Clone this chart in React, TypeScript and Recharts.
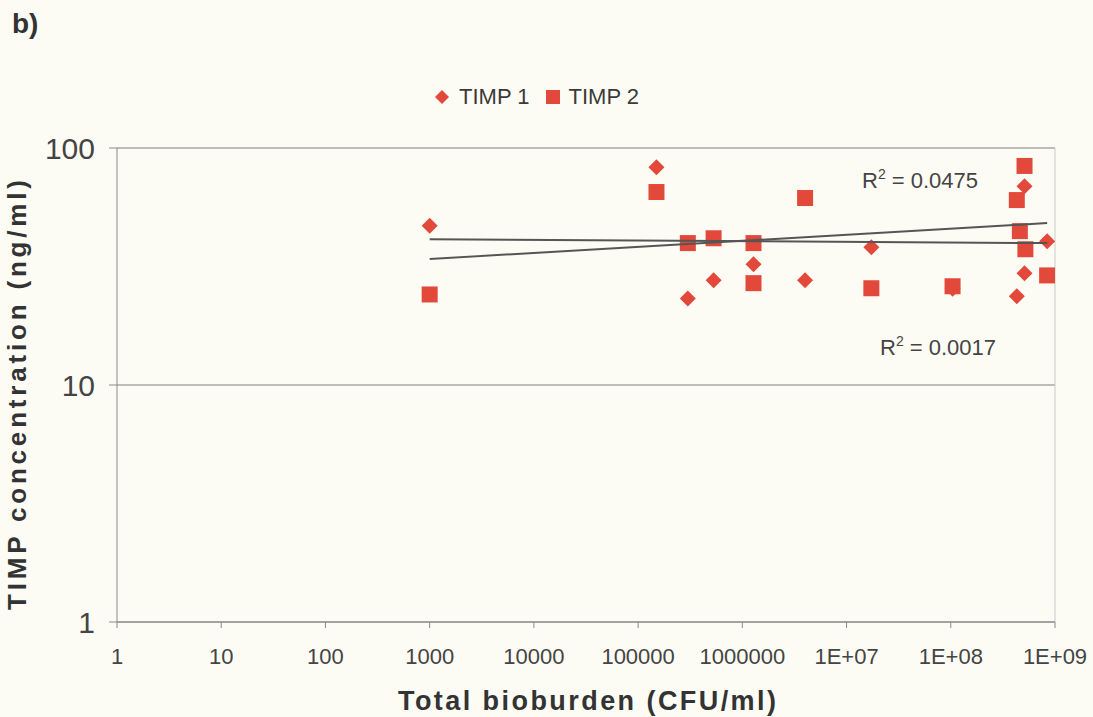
import {
  ScatterChart,
  Scatter,
  XAxis,
  YAxis,
  CartesianGrid,
  ReferenceLine,
} from 'recharts'

const MARKER = '#e3493b'
const TREND = '#555555'

const xTicks = [1, 10, 100, 1000, 1e4, 1e5, 1e6, 1e7, 1e8, 1e9]
const yTicks = [1, 10, 100]

// TIMP 1 (diamonds)
const timp1Bioburden = [1000, 1.5e5, 3.0e5, 5.3e5, 1.28e6, 4.0e6, 1.73e7, 1.04e8, 4.3e8, 5.1e8, 5.1e8, 8.4e8]
const timp1Conc = [47, 83, 23.2, 27.7, 32.3, 27.7, 38.1, 25.5, 23.7, 29.6, 69, 40.4]

// TIMP 2 (squares)
const timp2Bioburden = [1000, 1.5e5, 3.0e5, 5.3e5, 1.28e6, 1.28e6, 4.0e6, 1.73e7, 1.04e8, 4.3e8, 4.6e8, 5.2e8, 5.1e8, 8.4e8]
const timp2Conc = [24.1, 65.2, 39.7, 41.6, 39.7, 26.9, 61.5, 25.6, 26.1, 60.3, 44.6, 37.4, 84, 29]

// power trendlines, end points
const trendBioburden = [1000, 8.4e8]
const trend1Conc = [41.2, 39.7]
const trend2Conc = [34, 48.2]

const toPoints = (xs: number[], ys: number[]) => xs.map((x, i) => ({ x, y: ys[i] }))

const timp1 = toPoints(timp1Bioburden, timp1Conc)
const timp2 = toPoints(timp2Bioburden, timp2Conc)
const trend1 = toPoints(trendBioburden, trend1Conc)
const trend2 = toPoints(trendBioburden, trend2Conc)

const formatX = (v: number) => (v >= 1e7 ? `1E+${String(Math.round(Math.log10(v))).padStart(2, '0')}` : String(v))

const Diamond = (props: any) => {
  const { cx, cy } = props
  const r = 8
  return <polygon points={`${cx},${cy - r} ${cx + r},${cy} ${cx},${cy + r} ${cx - r},${cy}`} fill={MARKER} />
}

const Square = (props: any) => {
  const { cx, cy } = props
  return <rect x={cx - 8} y={cy - 8} width={16} height={16} fill={MARKER} />
}

const NoDot = () => <g />

export default function App() {
  return (
    <div
      style={{
        position: 'absolute',
        left: 0,
        top: 0,
        width: 1093,
        height: 717,
        background: '#fcfcf4',
        fontFamily: '"Liberation Sans", Arial, sans-serif',
      }}
    >
      <ScatterChart width={1093} height={717} margin={{ top: 148, right: 38, bottom: 0, left: 0 }}>
        <CartesianGrid vertical={false} stroke="#7d7d7d" strokeWidth={1.2} />
        <XAxis
          type="number"
          dataKey="x"
          scale="log"
          domain={[1, 1e9]}
          ticks={xTicks}
          tickFormatter={formatX}
          height={95}
          stroke="#8a8a8a"
          tickSize={6}
          tickMargin={20}
          tick={{ fill: '#444', fontSize: 22 }}
          allowDataOverflow
        />
        <YAxis
          type="number"
          dataKey="y"
          scale="log"
          domain={[1, 100]}
          ticks={yTicks}
          width={117}
          stroke="#8a8a8a"
          tickSize={8}
          tickMargin={14}
          tick={{ fill: '#444', fontSize: 30 }}
          allowDataOverflow
        />
        <ReferenceLine x={1e9} stroke="#c9c9c9" />
        <Scatter name="TIMP 1" data={timp1} shape={<Diamond />} isAnimationActive={false} />
        <Scatter name="TIMP 2" data={timp2} shape={<Square />} isAnimationActive={false} />
        <Scatter data={trend1} shape={<NoDot />} line={{ stroke: TREND, strokeWidth: 2 }} isAnimationActive={false} />
        <Scatter data={trend2} shape={<NoDot />} line={{ stroke: TREND, strokeWidth: 2 }} isAnimationActive={false} />
      </ScatterChart>
      <div
        style={{
          position: 'absolute',
          left: 434,
          top: 84,
          display: 'flex',
          alignItems: 'center',
          fontSize: 22,
          color: '#3a3a3a',
        }}
      >
        <svg width={16} height={16} style={{ marginRight: 9 }}>
          <polygon points="8,1 15,8 8,15 1,8" fill={MARKER} />
        </svg>
        <span style={{ marginRight: 16 }}>TIMP 1</span>
        <svg width={14} height={14} style={{ marginRight: 9 }}>
          <rect x={0} y={0} width={14} height={14} fill={MARKER} />
        </svg>
        <span>TIMP 2</span>
      </div>
      <svg
        width={1093}
        height={717}
        style={{ position: 'absolute', left: 0, top: 0, pointerEvents: 'none' }}
        fontFamily='"Liberation Sans", Arial, sans-serif'
      >
        <text x={12} y={33} fontSize={28} fontWeight="bold" fill="#333">b)</text>
        <text x={862} y={188} fontSize={22} fill="#444">
          R<tspan dy={-9} fontSize={14}>2</tspan>
          <tspan dy={9}> = 0.0475</tspan>
        </text>
        <text x={880} y={355} fontSize={22} fill="#444">
          R<tspan dy={-9} fontSize={14}>2</tspan>
          <tspan dy={9}> = 0.0017</tspan>
        </text>
        <text x={587} y={710} fontSize={27} fontWeight="bold" fill="#333" textAnchor="middle" textLength={378}>
          Total bioburden (CFU/ml)
        </text>
        <text
          transform="translate(26,395) rotate(-90)"
          fontSize={26}
          fontWeight="bold"
          fill="#333"
          textAnchor="middle"
          textLength={430}
        >
          TIMP concentration (ng/ml)
        </text>
      </svg>
    </div>
  )
}
